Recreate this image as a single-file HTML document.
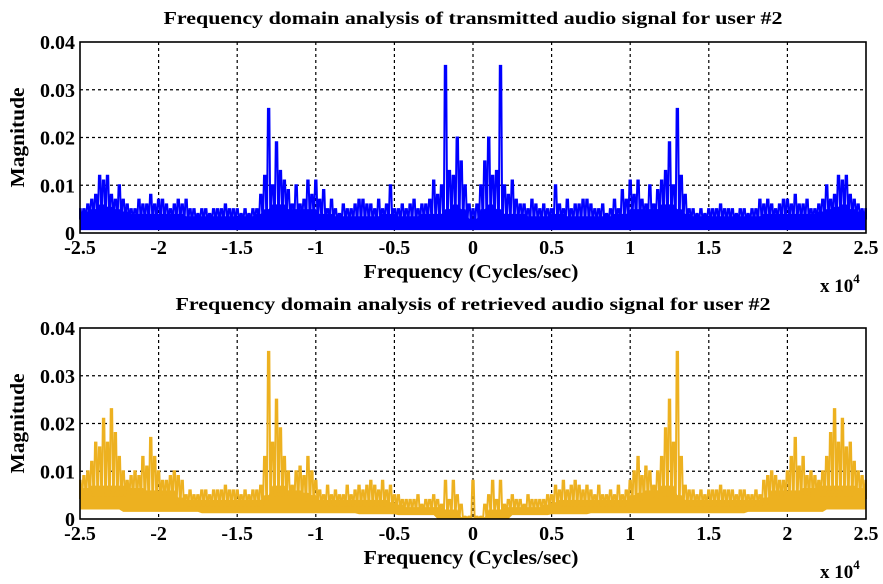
<!DOCTYPE html>
<html><head><meta charset="utf-8"><style>
body{margin:0;background:#fff;}
svg{display:block;font-family:"Liberation Serif",serif;font-weight:bold;}
</style></head><body>
<svg id="chart" width="883" height="584" viewBox="0 0 883 584" xmlns="http://www.w3.org/2000/svg"></svg>
<script>
const binStep = 250;
const xTicks = [-2.5,-2,-1.5,-1,-0.5,0,0.5,1,1.5,2,2.5];
const xTickLabels = ["-2.5","-2","-1.5","-1","-0.5","0","0.5","1","1.5","2","2.5"];
const yTicks = [0,0.01,0.02,0.03,0.04];
const yTickLabels = ["0","0.01","0.02","0.03","0.04"];
// Transmitted: peak magnitudes (x1e-3) per 250 Hz bin, 0..25000 Hz (mirrored)
const txPeak = [5,6,10,15,20,12,13,35,10,8,11,7,6,6,5,7,6,5,6,5,5,10,6,5,7,5,6,6,7,7,6,5,5,6,4,5,7,5,9,7,11,8,11,7,6,10,6,9,11,13,19,10,26,12,8,5,5,4,5,4,5,5,5,6,5,5,5,4,5,5,4,5,5,7,6,7,6,5,6,7,7,6,8,6,6,7,5,5,6,7,10,7,8,12,11,12,8,7,6,5,5];
// Transmitted: dense band level (x1e-3) per 500 Hz
const txBase = [3,5,6,5,4,4,4,3.5,3.5,3.5,4,4,3.5,3.5,3.5,3.5,3.5,3.5,4,4,5,5,5,5,6,6,5,4,3.5,3.5,3.5,3.5,3.5,3.5,3.5,3.5,3.5,4,4,4,4,4,4,4,4.5,5,5.5,6,5,4.5,4];
const txFloor = [0.6,0.6,0.6,0.6,0.6,0.6,0.6,0.6,0.6,0.6,0.6];
// Retrieved: peak magnitudes (x1e-3) per 250 Hz bin
const rxPeak = [8,0.5,0.5,3,5,8,4,8,3,4,5,4,4,3,5,4,4,4,4,5,5,7,6,8,6,7,8,7,6,7,6,5,7,5,5,6,5,7,5,6,8,10,13,9,11,10,7,10,13,19,25,16,35,13,7,6,6,5,6,5,6,6,6,7,6,6,6,5,6,6,5,5,6,5,8,9,10,9,8,8,10,13,17,11,13,9,10,9,8,10,13,18,23,16,21,15,16,12,10,9,8];
const rxBase = [0.3,0.4,2,2,2.5,2.5,2.5,2.5,2.5,3,3.5,4,4,4,4,4,4,4,4,4,5,5.5,6,6,7,7,5,4,4,4,4,4,4,4,4,4,4,4.5,6,6,6,6,6.5,6.5,7,7,7,7,7,6.5,6];
const rxFloor = [0,0.8,1,1.2,1.2,1.2,1.2,1.5,1.5,2,2];

const svg = document.getElementById('chart');
const NS = 'http://www.w3.org/2000/svg';
function mk(tag, attrs, parent){const e=document.createElementNS(NS,tag);for(const k in attrs)e.setAttribute(k,attrs[k]);(parent||svg).appendChild(e);return e;}

function drawPanel(p){
  const L=80,R=866,T=p.top,B=p.top+191;
  const xs=v=>L+(v+2.5)/5*(R-L);
  const ys=v=>B-v/0.04*(B-T);
  const g=mk('g',{});
  
  
  xTicks.forEach((t,i)=>{ if(i>0&&i<xTicks.length-1){const l=mk('line',{x1:xs(t),x2:xs(t),y1:T,y2:B,stroke:'#000','stroke-width':1.2,'stroke-dasharray':'3,3'},g);
    
    }});
  yTicks.forEach((t,i)=>{ if(i>0&&i<yTicks.length-1){const l=mk('line',{x1:L,x2:R,y1:ys(t),y2:ys(t),stroke:'#000','stroke-width':1.2,'stroke-dasharray':'3,3'},g);
    
    }});
  const sg=mk('g',{fill:p.color},g);
  
  
  const n=p.peak.length-1;
  let top=[],bot=[];
  for(let k=-n;k<=n;k++){
    const a=Math.abs(k), x=Math.min(R,Math.max(L,xs(k*binStep/1e4)));
    top.push(x+','+ys(p.base[Math.floor(a/2)]/1000));
    bot.unshift(x+','+ys(p.floor[Math.floor(a/10)]/1000));
  }
  const band=mk('polygon',{points:top.concat(bot).join(' ')},sg);
  
  
  let pts=[];
  for(let k=-n;k<=n;k++){
    const a=Math.abs(k);
    const x=xs(k*binStep/1e4);
    const pk=p.peak[a]/1000, bs=p.base[Math.floor(a/2)]/1000*0.7;
    pts.push(Math.min(R,Math.max(L,x-1.6))+','+ys(bs));
    pts.push(Math.min(R,Math.max(L,x-0.7))+','+ys(pk));
    pts.push(Math.min(R,Math.max(L,x+0.7))+','+ys(pk));
    pts.push(Math.min(R,Math.max(L,x+1.6))+','+ys(bs));
  }
  const sp=mk('polyline',{points:pts.join(' '),fill:'none',stroke:p.color,'stroke-width':2,'stroke-linejoin':'miter'},sg);
  
  
  const box=mk('rect',{x:L,y:T,width:R-L,height:B-T,fill:'none',stroke:'#000','stroke-width':1.6},g);
  
  
  xTicks.forEach((t,i)=>{const tx=mk('text',{x:xs(t),y:B+21,'font-size':20,'text-anchor':'middle'},g);tx.textContent=xTickLabels[i];
    
    });
  yTicks.forEach((t,i)=>{const tx=mk('text',{x:L-5,y:ys(t)+7,'font-size':20,'text-anchor':'end'},g);tx.textContent=yTickLabels[i];
    
    });
  const ti=mk('text',{x:473,y:T-18,'font-size':18,'text-anchor':'middle',textLength:p.titleLen,lengthAdjust:'spacingAndGlyphs'},g);ti.textContent=p.title;
  
  
  const xl=mk('text',{x:471,y:B+45,'font-size':20,'text-anchor':'middle',textLength:215,lengthAdjust:'spacingAndGlyphs'},g);xl.textContent='Frequency (Cycles/sec)';
  
  
  const yl=mk('text',{x:0,y:0,'font-size':20,'text-anchor':'middle',textLength:100,lengthAdjust:'spacingAndGlyphs',transform:`translate(24,${(T+B)/2}) rotate(-90)`},g);yl.textContent='Magnitude';
  
  
  const ex=mk('text',{x:820,y:B+59,'font-size':19},g);ex.innerHTML='x 10<tspan dy="-9" font-size="13">4</tspan>';
  
  
}
drawPanel({name:'transmitted',top:42,color:'#0000ff',peak:txPeak,base:txBase,floor:txFloor,titleLen:619,title:'Frequency domain analysis of transmitted audio signal for user #2'});
drawPanel({name:'retrieved',top:328,color:'#edb120',peak:rxPeak,base:rxBase,floor:rxFloor,titleLen:595,title:'Frequency domain analysis of retrieved audio signal for user #2'});
</script>
</body></html>
